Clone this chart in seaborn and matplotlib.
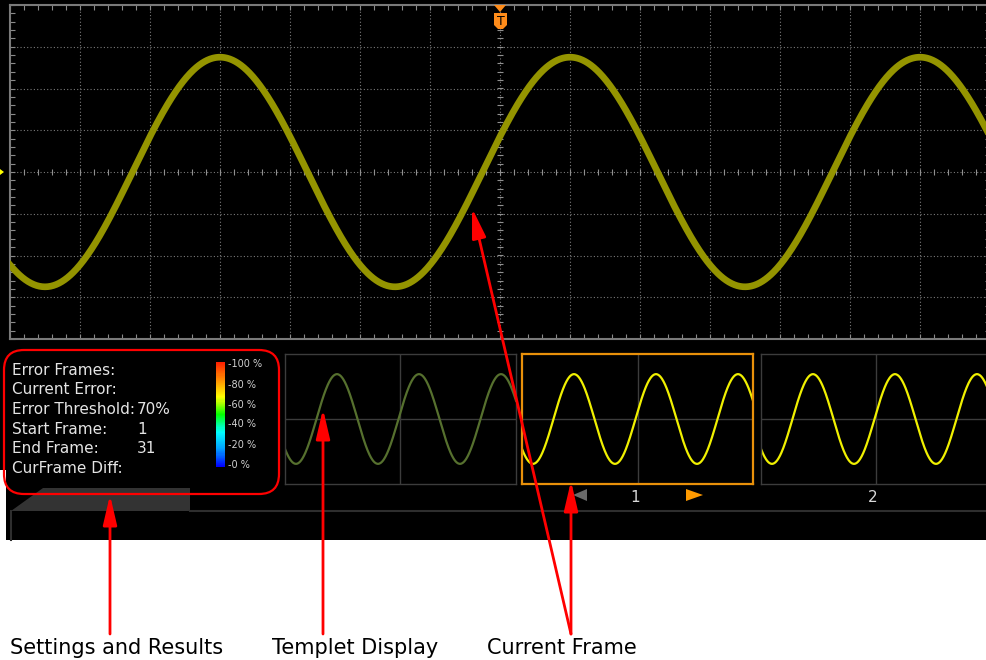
import numpy as np
import matplotlib
matplotlib.use("Agg")
import matplotlib.pyplot as plt
import seaborn as sns
from matplotlib.patches import Polygon, FancyBboxPatch, FancyArrowPatch
from matplotlib.colors import LinearSegmentedColormap
from matplotlib.ticker import MultipleLocator

# ---- values ----
# main trace, in screen divisions (0 = screen centre)
main_amplitude = 2.75
main_period = 5.0
main_first_peak = -4.0
# thumbnail traces, x as fraction of the thumbnail width, y in half heights
thumb_amplitude = 0.69
thumb_period = 0.355
thumb_first_peak = 0.225

info_labels = ["Error Frames:", "Current Error:", "Error Threshold:",
               "Start Frame:", "End Frame:", "CurFrame Diff:"]
info_values = ["", "", "70%", "1", "31", ""]
scale_labels = ["-100 %", "-80 %", "-60 %", "-40 %", "-20 %", "-0 %"]
scale_levels = np.arange(100, -1, -1)
frame_numbers = ["1", "2"]
callouts = ["Settings and Results", "Templet Display", "Current Frame"]

W, H = 987, 660
fig = plt.figure(figsize=(W / 100, H / 100), dpi=100)
fig.patch.set_facecolor("white")
plt.rcParams["font.family"] = ["DejaVu Sans"]


def px_axes(x0, y0, x1, y1, z=1):
    a = fig.add_axes([x0 / W, 1 - y1 / H, (x1 - x0) / W, (y1 - y0) / H], zorder=z)
    return a


# background layer in pixel coordinates
bg = px_axes(0, 0, W, H, z=0)
bg.set_xlim(0, W)
bg.set_ylim(H, 0)
bg.axis("off")
bg.add_patch(Polygon([(0, 0), (W, 0), (W, 540), (6, 540), (6, 470), (0, 470)],
                     closed=True, fc="black", ec="none"))
bg.add_patch(Polygon([(11, 511), (43, 488), (190, 488), (190, 511)], fc="#333333", ec="none"))
bg.plot([190, W], [511, 511], color="#2e2e2e", lw=1.5)
bg.plot([11, 11], [511, 540], color="#2e2e2e", lw=1.5)
# channel marker
bg.add_patch(Polygon([(0, 169), (0, 175), (4, 172)], fc="#ffff00", ec="none", zorder=5))

# ---- main scope screen ----
ax = px_axes(10, 5, 990, 339, z=2)
ax.set_facecolor("black")
t = np.linspace(-7, 7, 1401)
sig = main_amplitude * np.cos(2 * np.pi * (t - main_first_peak) / main_period)
for gx in range(-6, 7):
    ax.axvline(gx, color="#7a7a7a", lw=0.8, ls=(0, (1, 2)), zorder=1)
for gy in range(-3, 4):
    ax.axhline(gy, color="#7a7a7a", lw=0.8, ls=(0, (1, 2)), zorder=1)
minor_x = np.arange(-7, 7.01, 0.2)
minor_y = np.arange(-4, 4.01, 0.2)
ax.vlines(minor_x, -0.075, 0.075, color="#909090", lw=0.8, zorder=1)
ax.hlines(minor_y, -0.045, 0.045, color="#909090", lw=0.8, zorder=1)
sns.lineplot(x=t, y=sig, ax=ax, color="#949400", lw=4.8, zorder=3)
ax.set_xlim(-7, 7)
ax.set_ylim(-4, 4)
ax.set_xlabel("")
ax.set_ylabel("")
for loc in ax.xaxis, ax.yaxis:
    loc.set_major_locator(MultipleLocator(1))
    loc.set_minor_locator(MultipleLocator(0.2))
ax.tick_params(which="both", direction="in", length=3.6, width=0.8, color="#8a8a8a",
               top=True, right=True, bottom=True, left=True,
               labelbottom=False, labelleft=False)
for s in ax.spines.values():
    s.set_color("#7a7a7a")
    s.set_linewidth(1.5)

# ---- thumbnails ----
tx = np.linspace(0, 1, 600)
ty = thumb_amplitude * np.cos(2 * np.pi * (tx - thumb_first_peak) / thumb_period)
thumbs = [(285, "#56702e", "#3c3c3c"), (522, "#f0f000", "#e8900a"), (761, "#f0f000", "#3c3c3c")]
for x0, wave_col, edge in thumbs:
    th = px_axes(x0, 354, x0 + 231, 484, z=2)
    th.set_facecolor("black")
    th.axvline(0.5, color="#3c3c3c", lw=1)
    th.axhline(0, color="#3c3c3c", lw=1)
    sns.lineplot(x=tx, y=ty, ax=th, color=wave_col, lw=1.6)
    th.set_xlim(0, 1)
    th.set_ylim(-1, 1)
    th.set_xticks([])
    th.set_yticks([])
    th.set_xlabel("")
    th.set_ylabel("")
    for s in th.spines.values():
        s.set_color(edge)
        s.set_linewidth(1.6 if edge != "#3c3c3c" else 1.0)

# ---- colour scale ----
cmap = LinearSegmentedColormap.from_list(
    "err", ["#0000ff", "#00a0ff", "#00ffff", "#00ff00", "#ffff00", "#ff9000", "#ff2000"])
cax = px_axes(216, 362, 225, 467, z=2)
sns.heatmap(scale_levels.reshape(-1, 1), cmap=cmap, vmin=0, vmax=100, cbar=False,
            ax=cax, xticklabels=False, yticklabels=False)
cax.set_xticks([])
cax.set_yticks([])

# ---- overlay layer: texts, markers, annotations ----
ov = px_axes(0, 0, W, H, z=5)
ov.set_xlim(0, W)
ov.set_ylim(H, 0)
ov.axis("off")
ov.patch.set_alpha(0)

# trigger "T" marker
ov.add_patch(Polygon([(494, 5), (506, 5), (500, 12)], fc="#ff8c1a", ec="none"))
ov.add_patch(Polygon([(494, 13), (507, 13), (507, 25), (503, 29), (498, 29), (494, 25)],
                     fc="#ff8c1a", ec="none"))
ov.text(500.5, 25, "T", color="black", fontsize=9, ha="center", va="baseline")

for i, (lab, val) in enumerate(zip(info_labels, info_values)):
    yb = [375, 394, 414, 434, 453, 473][i]
    ov.text(12, yb, lab, color="#e4e4e4", fontsize=11, va="baseline")
    if val:
        ov.text(137, yb, val, color="#e4e4e4", fontsize=11, va="baseline")

for lab, yb in zip(scale_labels, [367, 388, 408, 427, 448, 468]):
    ov.text(228, yb, lab, color="#d0d0d0", fontsize=7, va="baseline")

for lab, xc in zip(frame_numbers, [635, 873]):
    ov.text(xc, 502, lab, color="#d8d8d8", fontsize=11, ha="center", va="baseline")
ov.add_patch(Polygon([(587, 489), (587, 501), (573, 495)], fc="#6a6a6a", ec="none"))
ov.add_patch(Polygon([(686, 489), (686, 501), (703, 495)], fc="#ff9a00", ec="none"))

ov.add_patch(FancyBboxPatch((4, 350), 275, 144, boxstyle="round,pad=0,rounding_size=20",
                            fc="none", ec="#ff0000", lw=1.6))


def arrow(tail, tip):
    ov.add_patch(FancyArrowPatch(tail, tip, arrowstyle="-|>,head_length=1.8,head_width=0.42",
                                 mutation_scale=10, color="#ff0000", lw=2,
                                 shrinkA=0, shrinkB=0))


arrow((110, 634), (110, 495))
arrow((323, 634), (323, 409))
arrow((571, 634), (571, 481))
arrow((571, 634), (472, 208))

for lab, xl in zip(callouts, [10, 272, 487]):
    ov.text(xl, 654, lab, color="black", fontsize=15, va="baseline")

fig.savefig("out.png", dpi=100, facecolor="white")
